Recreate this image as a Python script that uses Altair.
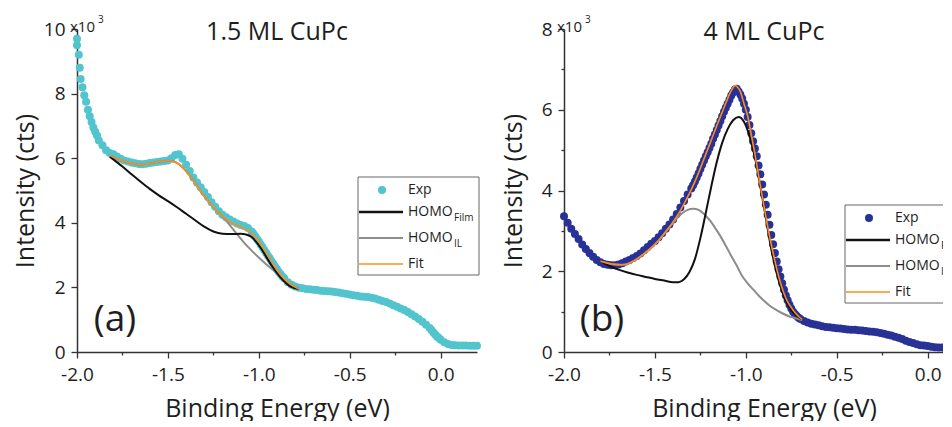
import altair as alt
import pandas as pd

FONT = "Open Sans"

# ---------------- Panel (a): 1.5 ML CuPc ----------------
a_exp_x = [-2.00, -2.00, -1.99, -1.985, -1.98, -1.97, -1.96, -1.95, -1.94, -1.93, -1.92, -1.91,
           -1.90, -1.89, -1.88, -1.86, -1.84, -1.82,
           -1.80, -1.78, -1.76, -1.74, -1.72, -1.70, -1.68, -1.66, -1.64, -1.62, -1.60, -1.58,
           -1.56, -1.54, -1.52, -1.50, -1.48, -1.46, -1.44, -1.42, -1.40, -1.38, -1.36, -1.34,
           -1.32, -1.30, -1.28, -1.26, -1.24, -1.22, -1.20, -1.18, -1.16, -1.14, -1.12, -1.10,
           -1.08, -1.06, -1.04, -1.02, -1.00, -0.98, -0.96, -0.94, -0.92, -0.90, -0.88, -0.86,
           -0.84, -0.82, -0.80, -0.78, -0.76, -0.74, -0.72, -0.70, -0.68, -0.66, -0.64, -0.62,
           -0.60, -0.58, -0.56, -0.54, -0.52, -0.50, -0.48, -0.46, -0.44, -0.42, -0.40, -0.38,
           -0.36, -0.34, -0.32, -0.30, -0.28, -0.26, -0.24, -0.22, -0.20, -0.18, -0.16, -0.14,
           -0.12, -0.10, -0.08, -0.06, -0.04, -0.02, 0.00, 0.02, 0.04, 0.06, 0.08, 0.10, 0.12,
           0.14, 0.16, 0.18, 0.20,
           -1.03, -1.01, -0.99, -0.97, -0.95, -0.93, -0.91, -0.89, -0.87, -0.05, -0.03, -0.01]
a_exp_y = [9.70, 9.50, 9.20, 8.80, 8.45, 8.20, 7.95, 7.75, 7.50, 7.30, 7.12, 6.95,
           6.82, 6.70, 6.55, 6.40, 6.25, 6.16,
           6.12, 6.05, 5.98, 5.93, 5.90, 5.87, 5.84, 5.82, 5.81, 5.83, 5.85, 5.87,
           5.88, 5.90, 5.91, 5.93, 6.00, 6.10, 6.12, 5.98, 5.80, 5.60, 5.40, 5.25,
           5.10, 4.95, 4.80, 4.64, 4.50, 4.36, 4.25, 4.17, 4.10, 4.04, 3.98, 3.93,
           3.90, 3.84, 3.73, 3.58, 3.42, 3.25, 3.07, 2.90, 2.73, 2.56, 2.41, 2.28,
           2.16, 2.08, 2.03, 1.99, 1.97, 1.95, 1.94, 1.93, 1.92, 1.90, 1.89, 1.88,
           1.87, 1.86, 1.84, 1.82, 1.80, 1.78, 1.76, 1.74, 1.72, 1.71, 1.70, 1.68,
           1.66, 1.62, 1.58, 1.55, 1.50, 1.45, 1.40, 1.35, 1.30, 1.24, 1.17, 1.10,
           1.02, 0.94, 0.84, 0.74, 0.60, 0.48, 0.38, 0.30, 0.25, 0.22, 0.21, 0.20, 0.20,
           0.20, 0.19, 0.19, 0.19,
           3.66, 3.50, 3.33, 3.16, 2.98, 2.81, 2.64, 2.48, 2.34, 0.67, 0.54, 0.43]

a_fit_x = [-1.82, -1.78, -1.74, -1.70, -1.66, -1.62, -1.58, -1.54, -1.50, -1.47, -1.44, -1.41,
           -1.38, -1.35, -1.32, -1.29, -1.26, -1.23, -1.20, -1.17, -1.14, -1.11, -1.08, -1.05,
           -1.02, -0.99, -0.96, -0.93, -0.90, -0.87, -0.84, -0.81, -0.78]
a_fit_y = [6.08, 5.98, 5.90, 5.84, 5.80, 5.82, 5.86, 5.90, 5.92, 5.90, 5.82, 5.66,
           5.46, 5.22, 4.97, 4.75, 4.55, 4.36, 4.20, 4.07, 3.97, 3.89, 3.82, 3.72,
           3.56, 3.34, 3.08, 2.80, 2.54, 2.32, 2.16, 2.04, 1.95]

a_film_x = [-1.82, -1.75, -1.70, -1.65, -1.60, -1.55, -1.50, -1.45, -1.40, -1.35, -1.30, -1.25,
            -1.20, -1.15, -1.10, -1.07, -1.04, -1.01, -0.98, -0.95, -0.92, -0.89, -0.86, -0.83,
            -0.80, -0.78]
a_film_y = [6.05, 5.74, 5.50, 5.27, 5.05, 4.85, 4.67, 4.48, 4.28, 4.08, 3.88, 3.73,
            3.66, 3.65, 3.66, 3.64, 3.56, 3.38, 3.14, 2.86, 2.60, 2.37, 2.18, 2.04,
            1.97, 1.95]

a_il_x = [-1.82, -1.78, -1.74, -1.70, -1.66, -1.62, -1.58, -1.54, -1.50, -1.47, -1.44, -1.41,
          -1.38, -1.35, -1.32, -1.29, -1.26, -1.23, -1.20, -1.17, -1.14, -1.11, -1.08, -1.05,
          -1.02, -0.99, -0.96, -0.93, -0.90, -0.87, -0.84, -0.81, -0.78]
a_il_y = [6.08, 5.98, 5.90, 5.84, 5.80, 5.82, 5.86, 5.90, 5.92, 5.90, 5.82, 5.66,
          5.46, 5.22, 4.97, 4.75, 4.55, 4.36, 4.20, 4.00, 3.79, 3.58, 3.38, 3.20,
          3.03, 2.87, 2.72, 2.58, 2.44, 2.30, 2.16, 2.04, 1.95]

# ---------------- Panel (b): 4 ML CuPc ----------------
b_exp_x = [-2.00, -1.98, -1.96, -1.94, -1.92, -1.90, -1.88, -1.86, -1.84, -1.82, -1.80, -1.78,
           -1.76, -1.74, -1.72, -1.70, -1.68, -1.66, -1.64, -1.62, -1.60, -1.58, -1.56, -1.54,
           -1.52, -1.50, -1.48, -1.46, -1.44, -1.42, -1.40, -1.38, -1.36, -1.34, -1.32,
           -1.30, -1.29, -1.28, -1.27, -1.26, -1.25, -1.24, -1.23, -1.22, -1.21, -1.20, -1.19,
           -1.18, -1.17, -1.16, -1.15, -1.14, -1.13, -1.12, -1.11, -1.10, -1.09, -1.08, -1.07,
           -1.06, -1.05, -1.04, -1.03, -1.02, -1.01, -1.00, -0.99, -0.98, -0.97, -0.96, -0.95,
           -0.94, -0.93, -0.92, -0.91, -0.90, -0.89, -0.88, -0.87, -0.86, -0.85, -0.84, -0.83,
           -0.82, -0.81, -0.80, -0.79, -0.78, -0.77, -0.76, -0.75, -0.74, -0.73, -0.72, -0.71,
           -0.70, -0.68, -0.66, -0.64, -0.62, -0.60, -0.58,
           -0.56, -0.54, -0.52, -0.50, -0.48, -0.46, -0.44, -0.42, -0.40, -0.38, -0.36, -0.34,
           -0.32, -0.30, -0.28, -0.26, -0.24, -0.22, -0.20, -0.18, -0.16, -0.14, -0.12, -0.10,
           -0.08, -0.06, -0.04, -0.02, 0.00, 0.02, 0.04, 0.06, 0.08, 0.10, 0.12, 0.14, 0.16,
           0.18, 0.20]
b_exp_y = [3.36, 3.20, 3.05, 2.92, 2.80, 2.66, 2.55, 2.45, 2.36, 2.28, 2.22, 2.18,
           2.16, 2.15, 2.15, 2.17, 2.20, 2.24, 2.28, 2.33, 2.38, 2.44, 2.52, 2.60,
           2.68, 2.75, 2.84, 2.94, 3.05, 3.16, 3.28, 3.42, 3.58, 3.74, 3.90,
           4.05, 4.13, 4.22, 4.32, 4.42, 4.53, 4.64, 4.74, 4.85, 4.95, 5.05, 5.16,
           5.28, 5.39, 5.50, 5.61, 5.72, 5.84, 5.95, 6.05, 6.15, 6.25, 6.35, 6.43,
           6.50, 6.52, 6.45, 6.38, 6.28, 6.15, 6.00, 5.82, 5.62, 5.42, 5.22, 5.04,
           4.85, 4.62, 4.40, 4.15, 3.90, 3.65, 3.40, 3.15, 2.90, 2.67, 2.45, 2.24,
           2.05, 1.87, 1.70, 1.54, 1.40, 1.28, 1.17, 1.08, 1.00, 0.94, 0.89, 0.85,
           0.82, 0.77, 0.73, 0.70, 0.68, 0.66, 0.64,
           0.62, 0.61, 0.60, 0.59, 0.58, 0.57, 0.56, 0.55, 0.55, 0.54, 0.53, 0.52,
           0.51, 0.50, 0.49, 0.47, 0.45, 0.43, 0.41, 0.38, 0.35, 0.32, 0.28, 0.25,
           0.22, 0.19, 0.17, 0.16, 0.15, 0.13, 0.12, 0.11, 0.11, 0.10, 0.10, 0.10, 0.10,
           0.10, 0.10]

b_fit_x = [-1.80, -1.76, -1.72, -1.68, -1.64, -1.60, -1.56, -1.52, -1.48, -1.44, -1.40, -1.36,
           -1.32, -1.28, -1.24, -1.20, -1.16, -1.12, -1.09, -1.07, -1.06, -1.05, -1.03, -1.01,
           -0.99, -0.97, -0.95, -0.93, -0.91, -0.89, -0.87, -0.85, -0.83, -0.81, -0.79, -0.77,
           -0.75, -0.73, -0.71, -0.69]
b_fit_y = [2.25, 2.20, 2.17, 2.16, 2.20, 2.30, 2.43, 2.58, 2.76, 2.98, 3.22, 3.50,
           3.84, 4.22, 4.67, 5.13, 5.60, 6.05, 6.38, 6.55, 6.60, 6.58, 6.45, 6.15,
           5.85, 5.38, 4.90, 4.38, 3.86, 3.36, 2.88, 2.45, 2.06, 1.72, 1.45, 1.24,
           1.10, 0.98, 0.88, 0.81]

b_film_x = [-1.80, -1.75, -1.70, -1.65, -1.60, -1.55, -1.50, -1.45, -1.40, -1.37, -1.34, -1.31,
            -1.28, -1.25, -1.22, -1.19, -1.16, -1.13, -1.10, -1.07, -1.04, -1.01, -0.98, -0.95,
            -0.92, -0.89, -0.86, -0.83, -0.80, -0.77, -0.74, -0.71, -0.69]
b_film_y = [2.25, 2.13, 2.04, 1.97, 1.91, 1.86, 1.81, 1.77, 1.73, 1.73, 1.80, 1.98,
            2.30, 2.82, 3.45, 4.10, 4.70, 5.18, 5.52, 5.74, 5.82, 5.70, 5.35, 4.82,
            4.10, 3.32, 2.55, 1.95, 1.50, 1.18, 0.98, 0.86, 0.81]

b_il_x = [-1.80, -1.76, -1.72, -1.68, -1.64, -1.60, -1.56, -1.52, -1.48, -1.44, -1.40, -1.36,
          -1.32, -1.29, -1.26, -1.23, -1.20, -1.17, -1.14, -1.11, -1.08, -1.05, -1.02, -0.99,
          -0.96, -0.93, -0.90, -0.87, -0.84, -0.80, -0.76, -0.72, -0.69]
b_il_y = [2.25, 2.20, 2.17, 2.16, 2.20, 2.30, 2.43, 2.58, 2.76, 2.98, 3.20, 3.40,
          3.52, 3.55, 3.52, 3.42, 3.27, 3.08, 2.87, 2.63, 2.38, 2.14, 1.88, 1.70,
          1.55, 1.40, 1.27, 1.15, 1.06, 0.96, 0.88, 0.83, 0.79]

X_TICKS = [-2.0, -1.75, -1.5, -1.25, -1.0, -0.75, -0.5, -0.25, 0.0]
X_DOMAIN = [-2.0, 0.2]
LEGEND_ITEMS = ["Exp", "HOMO", "HOMO", "Fit"]
LEGEND_SUBS = ["", "Film", "IL", ""]

INK = "#1e1e1e"
FILM_COLOR = "#111111"
IL_COLOR = "#8c8c8c"
FIT_COLOR = "#ff8c1a"

W, H = 400, 323


def panel(exp_x, exp_y, fit, film, il, ymax, exp_color, title, tag, legend_top, ytitle_pad):
    exp_df = pd.DataFrame({"x": exp_x, "y": exp_y})
    minor_x = "abs(datum.value * 2 - round(datum.value * 2)) > 0.01"
    xaxis = alt.Axis(
        values=X_TICKS, title="Binding Energy (eV)", grid=False,
        labelExpr=f"({minor_x}) ? '' : replace(format(datum.value, '.1f'), '\u2212', '-')",
        tickSize={"condition": {"test": minor_x, "value": 3}, "value": 6},
        labelOverlap=False, labelFlush=False, labelPadding=7,
        titlePadding=12,
    )
    minor_y = "datum.value % 2 != 0"
    yaxis = alt.Axis(
        values=list(range(0, ymax + 1)), title="Intensity (cts)", grid=False,
        labelExpr=f"({minor_y}) ? '' : format(datum.value, 'd')",
        tickSize={"condition": {"test": minor_y, "value": 3}, "value": 6},
        labelOverlap=False, labelPadding=6, titlePadding=ytitle_pad,
    )
    xs = alt.Scale(domain=X_DOMAIN, nice=False, zero=False)
    ys = alt.Scale(domain=[0, ymax], nice=False, zero=True)

    pts = alt.Chart(exp_df).mark_circle(size=64, opacity=1, color=exp_color).encode(
        x=alt.X("x:Q", scale=xs, axis=xaxis),
        y=alt.Y("y:Q", scale=ys, axis=yaxis),
    )

    def line(xv, yv, color, w):
        return alt.Chart(pd.DataFrame({"x": xv, "y": yv})).mark_line(
            color=color, strokeWidth=w, interpolate="monotone"
        ).encode(x=alt.X("x:Q", scale=xs), y=alt.Y("y:Q", scale=ys))

    layers = [pts,
              line(il[0], il[1], IL_COLOR, 2.0),
              line(film[0], film[1], FILM_COLOR, 2.0),
              line(fit[0], fit[1], FIT_COLOR, 1.6)]

    one = pd.DataFrame({"k": [0]})
    # panel title and tag
    layers.append(alt.Chart(one).mark_text(fontSize=25, align="center", baseline="alphabetic",
                                           color=INK).encode(
        x=alt.value(W / 2), y=alt.value(11), text=alt.value(title)))
    layers.append(alt.Chart(one).mark_text(fontSize=37, align="center", baseline="middle",
                                           color=INK).encode(
        x=alt.value(38), y=alt.value(H - 32), text=alt.value(tag)))
    # x10^3 multiplier
    layers.append(alt.Chart(one).mark_text(fontSize=15, align="left", baseline="alphabetic",
                                           color=INK).encode(
        x=alt.value(-7), y=alt.value(3), text=alt.value("x10")))
    layers.append(alt.Chart(one).mark_text(fontSize=10, align="left", baseline="alphabetic",
                                           color=INK).encode(
        x=alt.value(21), y=alt.value(-6), text=alt.value("3")))

    # legend box
    bx, by = 281, legend_top
    layers.append(alt.Chart(one).mark_rect(fill="white", stroke="#666666", strokeWidth=1).encode(
        x=alt.value(bx), x2=alt.value(bx + 121), y=alt.value(by), y2=alt.value(by + 98)))
    rows = [13, 35, 61, 87]
    colors = [exp_color, FILM_COLOR, IL_COLOR, FIT_COLOR]
    widths = [0, 2.4, 2.2, 1.6]
    for i, (lab, sub) in enumerate(zip(LEGEND_ITEMS, LEGEND_SUBS)):
        yy = by + rows[i]
        if i == 0:
            layers.append(alt.Chart(one).mark_circle(size=64, opacity=1, color=colors[i]).encode(
                x=alt.value(bx + 24), y=alt.value(yy)))
        else:
            layers.append(alt.Chart(one).mark_rule(color=colors[i], strokeWidth=widths[i]).encode(
                x=alt.value(bx + 1), x2=alt.value(bx + 45), y=alt.value(yy)))
        layers.append(alt.Chart(one).mark_text(fontSize=14, align="left", baseline="middle",
                                               color=INK).encode(
            x=alt.value(bx + 50), y=alt.value(yy), text=alt.value(lab)))
        if sub:
            layers.append(alt.Chart(one).mark_text(fontSize=10, align="left", baseline="middle",
                                                   color=INK).encode(
                x=alt.value(bx + 96), y=alt.value(yy + 6), text=alt.value(sub)))

    return alt.layer(*layers).properties(width=W, height=H)


left = panel(a_exp_x, a_exp_y, (a_fit_x, a_fit_y), (a_film_x, a_film_y), (a_il_x, a_il_y),
             10, "#52c4cd", "1.5 ML CuPc", "(a)", 148, 5)
right = panel(b_exp_x, b_exp_y, (b_fit_x, b_fit_y), (b_film_x, b_film_y), (b_il_x, b_il_y),
              8, "#283296", "4 ML CuPc", "(b)", 176, 15)

chart = alt.hconcat(left, right, spacing=20).properties(
    padding={"left": 5, "top": 7, "right": -25, "bottom": 0}
).configure(font=FONT).configure_view(stroke=None).configure_axis(
    domainColor="#333333", domainWidth=1.5, tickColor="#333333", tickWidth=1.3,
    labelColor=INK, titleColor=INK, labelFontSize=19, titleFontSize=25,
    titleFontWeight="normal", labelFont=FONT, titleFont=FONT,
)

chart.save("out.html", embed_options={"renderer": "svg", "actions": False})
